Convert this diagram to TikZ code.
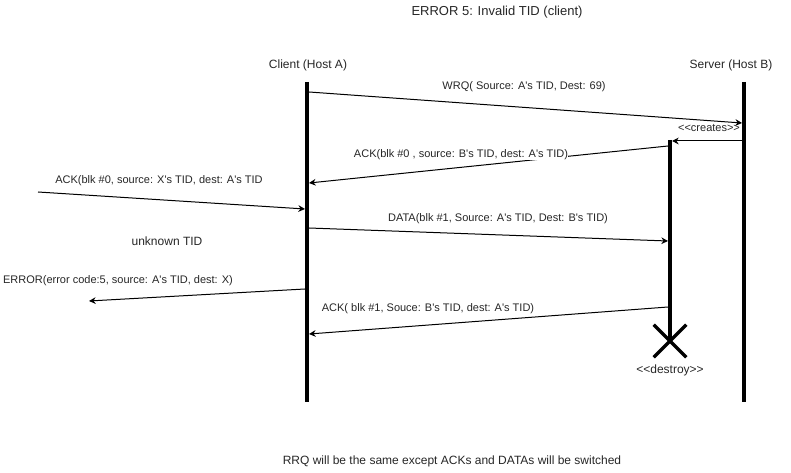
\documentclass[tikz,border=0pt]{standalone}
\usepackage{fontspec}
\newfontfamily\arialfont{Liberation Sans}
\usetikzlibrary{arrows.meta}
\begin{document}
\begin{tikzpicture}[x=0.75pt,y=-0.75pt,
  lbl/.style={font=\arialfont\fontsize{9pt}{11pt}\selectfont, inner sep=0pt, text=black!85},
  mlbl/.style={font=\arialfont\fontsize{8.25pt}{10pt}\selectfont, inner sep=0pt, text=black!85},
  tlbl/.style={font=\arialfont\fontsize{9.75pt}{12pt}\selectfont, inner sep=0pt, text=black!85},
  life/.style={line width=3pt},
  msg/.style={line width=0.75pt, -{Stealth[length=5pt,width=5pt]}},
  xmark/.style={line width=2.6pt}]
\useasboundingbox (0,0) rectangle (791,473);
% titles
\node[tlbl] (title) at (497,12) {ERROR 5: Invalid TID (client)};
\node[lbl] (clientlbl) at (308,65) {Client (Host A)};
\node[lbl] (serverlbl) at (731,65) {Server (Host B)};
\node[lbl] (footer) at (452,461) {RRQ will be the same except ACKs and DATAs will be switched};
% lifelines
\coordinate (ctop) at (307,82);
\coordinate (cbot) at (307,402);
\coordinate (stop) at (744,82);
\coordinate (sbot) at (744,402);
\draw[life] (ctop) -- (cbot);
\draw[life] (stop) -- (sbot);
% temporary server object
\coordinate (atop) at (670,140);
\coordinate (abot) at (670,341);
\draw[life] (atop) -- (abot);
\node[minimum size=32pt*0.75, inner sep=0pt] (xx) at (670,341) {};
\draw[xmark] (xx.north west) -- (xx.south east) (xx.north east) -- (xx.south west);
\node[lbl] (destroy) at (670,370) {<<destroy>>};
% messages
\coordinate (wrq1) at (309,92);
\coordinate (wrq2) at (742,123);
\draw[msg] (wrq1) -- (wrq2);
\node[mlbl] (wrqlbl) at (524,87) {WRQ( Source: A's TID, Dest: 69)};
\coordinate (cr1) at (742,141);
\coordinate (cr2) at (672,141);
\draw[msg] (cr1) -- (cr2);
\node[mlbl] (crlbl) at (709,128) {<<creates>>};
\coordinate (ack1) at (668,146);
\coordinate (ack2) at (309,183);
\draw[msg] (ack1) -- (ack2);
\node[mlbl, fill=white] (acklbl) at (461,155) {ACK(blk \#0 , source: B's TID, dest: A's TID)};
\coordinate (xack1) at (38,192);
\coordinate (xack2) at (305,209);
\draw[msg] (xack1) -- (xack2);
\node[mlbl] (xacklbl) at (159,181) {ACK(blk \#0, source: X's TID, dest: A's TID};
\node[lbl] (unknown) at (167,241) {unknown TID};
\coordinate (data1) at (309,228);
\coordinate (data2) at (668,241);
\draw[msg] (data1) -- (data2);
\node[mlbl] (datalbl) at (498,219) {DATA(blk \#1, Source: A's TID, Dest: B's TID)};
\coordinate (err1) at (305,289);
\coordinate (err2) at (89,301);
\draw[msg] (err1) -- (err2);
\node[mlbl] (errlbl) at (118,281) {ERROR(error code:5, source: A's TID, dest: X)};
\coordinate (ackb1) at (668,307);
\coordinate (ackb2) at (309,334);
\draw[msg] (ackb1) -- (ackb2);
\node[mlbl] (ackblbl) at (428,309) {ACK( blk \#1, Souce: B's TID, dest: A's TID)};
\end{tikzpicture}
\end{document}
